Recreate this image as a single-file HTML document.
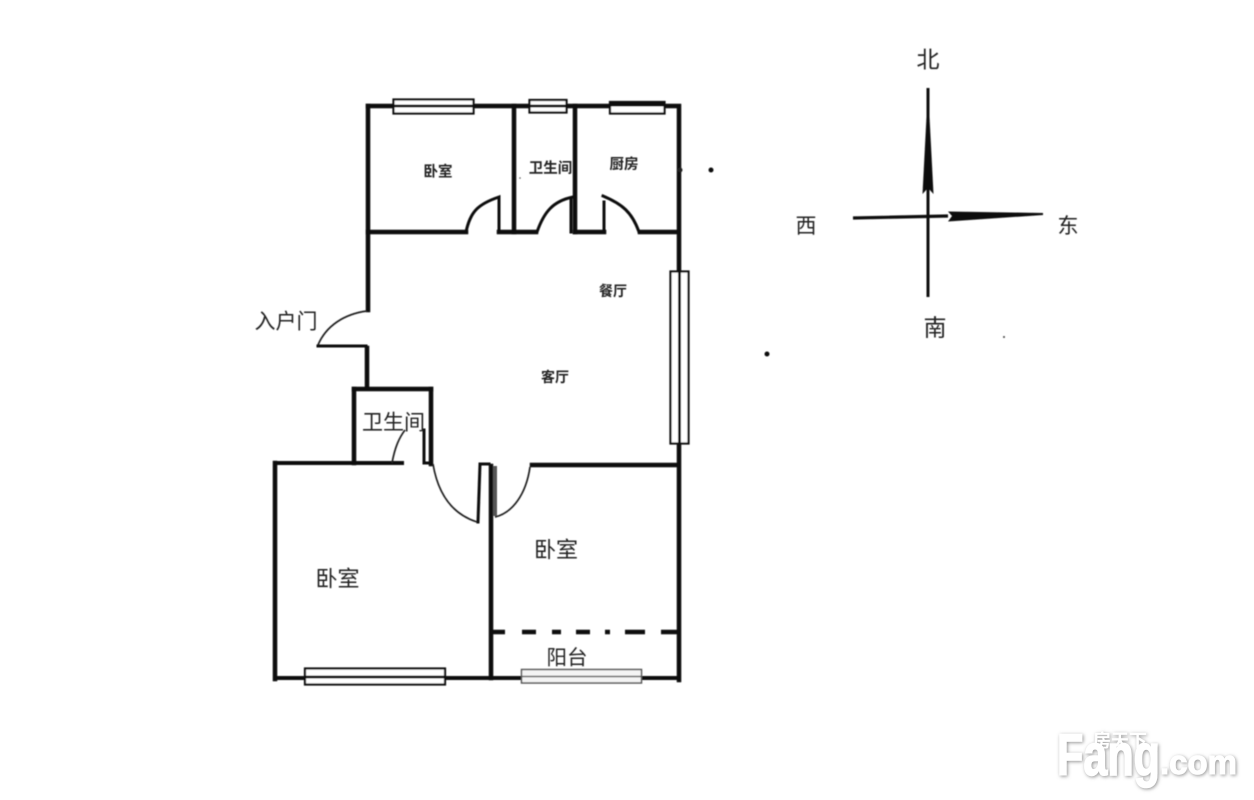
<!DOCTYPE html>
<html><head><meta charset="utf-8"><style>
html,body{margin:0;padding:0;background:#fff}
svg{display:block}
text{font-family:"Liberation Sans","Noto Sans CJK SC",sans-serif;fill:#222;text-anchor:middle;dominant-baseline:central}
</style></head><body>
<svg width="1254" height="800" viewBox="0 0 1254 800" xmlns="http://www.w3.org/2000/svg">
<defs><filter id="b" x="-2%" y="-2%" width="104%" height="104%"><feGaussianBlur stdDeviation="0.45"/></filter>
<filter id="s" x="-10%" y="-10%" width="120%" height="120%"><feDropShadow dx="1" dy="1" stdDeviation="1.8" flood-color="#777" flood-opacity="0.8"/></filter></defs>
<rect width="1254" height="800" fill="#fff"/>
<g filter="url(#b)">
<g fill="none" stroke="#0a0a0a" stroke-width="4.500" stroke-linecap="square">
<path d="M368 106H679V680"/>
<path d="M368 106V310"/>
<path d="M514 106V232"/>
<path d="M575 106V232"/>
<path d="M368 232H466"/>
<path d="M499 232H536"/>
<path d="M575 232H604"/>
<path d="M640 232H678"/>
<path d="M367 348V388"/>
<path d="M354 389H431"/>
<path d="M354 389V463"/>
<path d="M431 389V464"/>
<path d="M276 463H402" stroke-width="4"/>
<path d="M275 463V679"/>
<path d="M276 678H678" stroke-width="4"/>
<path d="M491 466V678"/>
<path d="M532 465H678"/>
<path stroke-linecap="butt" d="M492 632H505M522 632H536M552 632H561M576 632H590M605 632H610M625 632H645M661 632H677"/>
</g>
<g fill="none" stroke="#111" stroke-width="3" stroke-linecap="square">
<path d="M466 232C470 212 478 204 499 197V232"/>
<path d="M537 232C544 212 553 201 573 197"/>
<path d="M571 200V232"/>
<path d="M604 202V232"/>
<path d="M603 196C622 204 632 212 639 232"/>
<path d="M318 346H366"/>
<path d="M424 430V463H431"/>
<path d="M478 522L480 464H489"/>
</g>
<g fill="none" stroke="#222" stroke-width="1.700">
<path d="M367 311C344 314 326 326 318 345"/>
<path d="M392 463C395 447 399 438 405 430"/>
<path d="M433 464C438 494 452 514 477 522"/>
<path d="M495 517C512 513 526 495 530 467"/>
</g>
<path d="M493 466H497V516H493Z" fill="#555"/>
<g fill="#fff" stroke="#111" stroke-width="2.200">
<rect x="393.500" y="99.500" width="80" height="14"/>
<rect x="529.500" y="100" width="37" height="12.500"/>
<rect x="610" y="102" width="54.500" height="11.500"/>
<rect x="670.500" y="271.500" width="18" height="172"/>
<rect x="305" y="668.500" width="140" height="16"/>
</g>
<path d="M393 106H474M529 106H567M679.500 271V444M305 677H445" stroke="#111" stroke-width="2.800" fill="none"/>
<path d="M609 101H665V106.500H609Z" fill="#111"/>
<rect x="521.500" y="669.500" width="120" height="13.500" fill="#f4f4f4" stroke="#555" stroke-width="1.500"/>
<path d="M522 676.500H641" stroke="#666" stroke-width="1.500"/>
<path d="M928 88V297" stroke="#111" stroke-width="3" fill="none"/>
<path d="M928 88L933.500 194L928 188L922.500 194Z" fill="#111"/>
<path d="M853 218L948 216" stroke="#111" stroke-width="3.200" fill="none"/>
<path d="M948 211.500L1043 213L1043 215L948 221.500L952 216Z" fill="#111"/>
<circle cx="711" cy="170" r="2.500" fill="#111"/>
<circle cx="767" cy="354" r="2.500" fill="#111"/>
<circle cx="680" cy="170" r="2.500" fill="#222"/>
<circle cx="1004" cy="337" r="1" fill="#444"/>
<circle cx="520" cy="178" r="0.800" fill="#555"/>
<text x="438" y="172.500" font-size="14.500" font-weight="bold">卧室</text>
<text x="550.500" y="169" font-size="14.500" font-weight="bold">卫生间</text>
<text x="624" y="165" font-size="14.500" font-weight="bold">厨房</text>
<text x="613" y="291" font-size="14" font-weight="bold">餐厅</text>
<text x="555" y="377" font-size="14" font-weight="bold">客厅</text>
<text x="286" y="322" font-size="21">入户门</text>
<text x="393.500" y="423" font-size="21">卫生间</text>
<text x="337.500" y="579" font-size="22">卧室</text>
<text x="556" y="550" font-size="22">卧室</text>
<text x="567" y="658" font-size="20.500">阳台</text>
<text x="928" y="59.500" font-size="23">北</text>
<text x="935" y="327.500" font-size="23">南</text>
<text x="806" y="226.500" font-size="21">西</text>
<text x="1068" y="226.500" font-size="21">东</text>
</g>
<g filter="url(#s)" style="font-weight:bold">
<text x="1057" y="775" font-size="58" stroke="#fff" stroke-width="1.500" style="fill:#fff;text-anchor:start;dominant-baseline:auto" textLength="103" lengthAdjust="spacingAndGlyphs">Fang</text>
<text x="1160" y="774" font-size="34" stroke="#fff" stroke-width="1" style="fill:#fff;text-anchor:start;dominant-baseline:auto" textLength="77" lengthAdjust="spacingAndGlyphs">.com</text>
<text x="1120" y="741" font-size="18" style="fill:#fff">房天下</text>
</g>
</svg>
</body></html>
